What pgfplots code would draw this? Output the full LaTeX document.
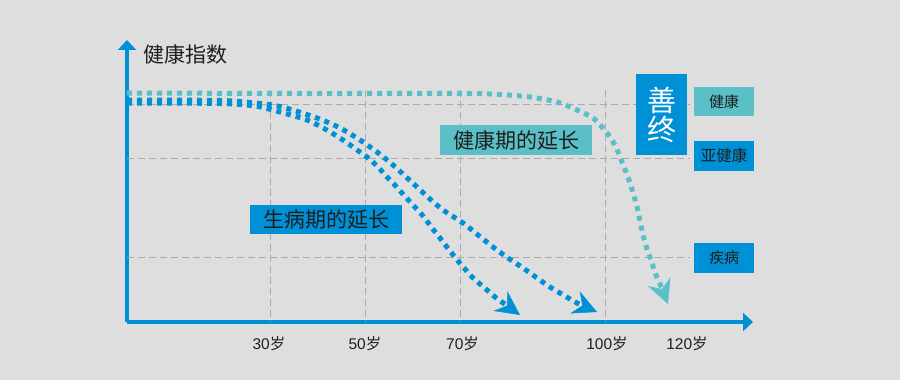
\documentclass[border=0pt]{standalone}
\usepackage{fontspec}
\setmainfont{Liberation Sans}
\newfontfamily\cjk{Noto Sans CJK SC}
\usepackage{pgfplots}
\pgfplotsset{compat=1.18}
\usetikzlibrary{arrows.meta}
\definecolor{bg}{HTML}{DEDEDE}
\definecolor{mblue}{HTML}{0090D6}
\definecolor{mcyan}{HTML}{5BBFC7}
\definecolor{gridc}{HTML}{ABABAB}
\definecolor{txt}{HTML}{1E1E1E}
\begin{document}
\begin{tikzpicture}[x=1pt,y=1pt]
\fill[bg] (-127,-58) rectangle (773,322);
\begin{axis}[
  at={(0,0)}, anchor=south west,
  scale only axis, width=626pt, height=282pt,
  xmin=127, xmax=753, ymin=58, ymax=340,
  axis x line*=bottom, axis y line*=left,
  axis line style={line width=4pt, mblue},
  x axis line style={-{Triangle[length=10pt,width=18pt]}},
  y axis line style={-{Triangle[length=10pt,width=18pt]}},
  xtick={269,365,462.5,607,687},
  xticklabels={30{\cjk 岁},50{\cjk 岁},70{\cjk 岁},100{\cjk 岁},120{\cjk 岁}},
  ytick=\empty,
  major tick length=0pt,
  xticklabel style={font=\fontsize{15.5}{16}\selectfont, text=txt, yshift=-11pt},
  clip=false,
]
% grid lines
\addplot[gridc, line width=1pt, dash pattern=on 7pt off 4pt, forget plot] coordinates {(127,275) (690,275)};
\addplot[gridc, line width=1pt, dash pattern=on 7pt off 4pt, forget plot] coordinates {(127,221) (690,221)};
\addplot[gridc, line width=1pt, dash pattern=on 7pt off 4pt, forget plot] coordinates {(127,122) (690,122)};
\addplot[gridc, line width=1pt, dash pattern=on 7pt off 4pt, forget plot] coordinates {(270,290) (270,58)};
\addplot[gridc, line width=1pt, dash pattern=on 7pt off 4pt, forget plot] coordinates {(365,290) (365,58)};
\addplot[gridc, line width=1pt, dash pattern=on 7pt off 4pt, forget plot] coordinates {(460,290) (460,58)};
\addplot[gridc, line width=1pt, dash pattern=on 7pt off 4pt, forget plot] coordinates {(605,290) (605,58)};
% healthy (cyan)
\addplot[mcyan, line width=5pt, dash pattern=on 5pt off 5pt, smooth,
  -{Stealth[length=24pt,width=24pt,inset=8pt,line width=0.5pt]}] coordinates {
 (127,287) (300,286.5) (460,286.5) (500,285.5) (530,283) (557,278) (577,270)
 (593,262) (603,252) (610,243) (616,233) (620,223) (626,208) (630,197)
 (634,184) (637,173) (640,159) (643,145) (647,131) (652,117) (656,105)
 (660,96) (668,76)};
% outer blue
\addplot[mblue, line width=5pt, dash pattern=on 5pt off 5pt, smooth,
  -{Stealth[length=24pt,width=24pt,inset=8pt,line width=0.5pt]}] coordinates {
 (127,280) (220,279.5) (255,277) (282,273) (317,262) (340,252) (360,240)
 (377,228) (393,215) (405,204) (417,193) (430,181) (443,170) (463,157)
 (478,145) (493,133) (508,122) (523,112) (537,102) (550,93) (565,84)
 (577,77) (597,68)};
% inner blue
\addplot[mblue, line width=5pt, dash pattern=on 5pt off 5pt, smooth,
  -{Stealth[length=24pt,width=24pt,inset=8pt,line width=0.5pt]}] coordinates {
 (127,277) (220,276.5) (255,274) (280,268) (307,260) (325,251) (343,240)
 (357,230) (367,223) (378,213) (387,203) (393,197) (402,187) (413,175)
 (423,164) (432,152) (440,142) (450,129) (458,119) (465,111) (472,103)
 (480,96) (487,90) (495,83) (520,65)};
% labels
\node[anchor=west, text=txt, font=\cjk\fontsize{21}{21}\selectfont, inner sep=0pt] at (axis cs:143,326) {健康指数};
\node[fill=mcyan, minimum width=152pt, minimum height=30pt, inner sep=0pt, text=txt, font=\cjk\fontsize{21}{21}\selectfont] at (axis cs:516,240) {健康期的延长};
\node[fill=mblue, minimum width=152pt, minimum height=29pt, inner sep=0pt, text=txt, font=\cjk\fontsize{21}{21}\selectfont] at (axis cs:326,160.5) {生病期的延长};
\node[fill=mblue, minimum width=51pt, minimum height=81pt, inner sep=0pt, text=white, align=center, font=\cjk\fontsize{29}{29}\selectfont] at (axis cs:661.5,265.5) {善\\终};
\node[fill=mcyan, minimum width=60pt, minimum height=29pt, inner sep=0pt, text=txt, font=\cjk\fontsize{15}{15}\selectfont] at (axis cs:724,278.5) {健康};
\node[fill=mblue, minimum width=60pt, minimum height=30pt, inner sep=0pt, text=txt, font=\cjk\fontsize{15.5}{15.5}\selectfont] at (axis cs:724,224) {亚健康};
\node[fill=mblue, minimum width=60pt, minimum height=30pt, inner sep=0pt, text=txt, font=\cjk\fontsize{15}{15}\selectfont] at (axis cs:724,122) {疾病};
\end{axis}
\end{tikzpicture}
\end{document}
